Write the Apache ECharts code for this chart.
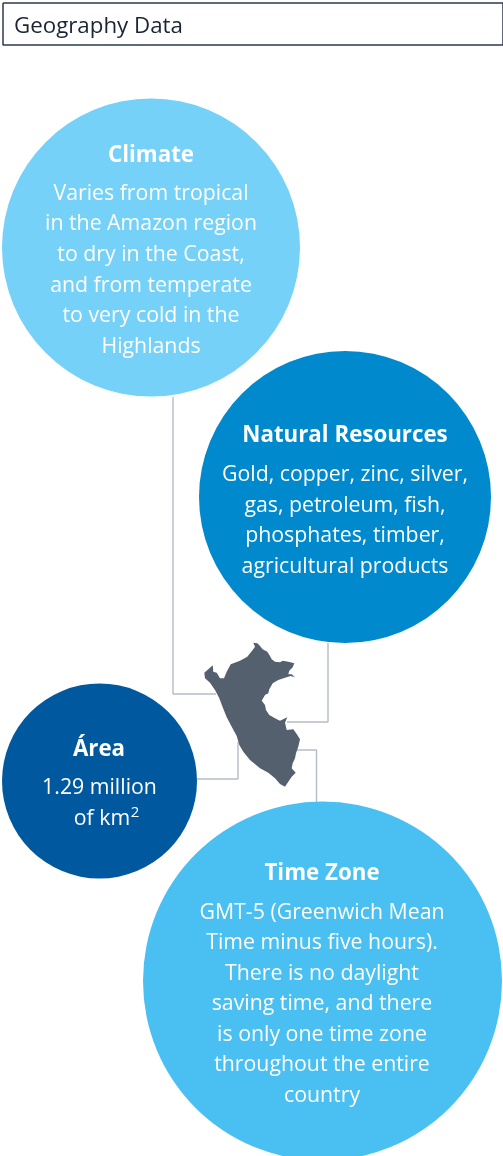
<!DOCTYPE html>
<html>
<head>
<meta charset="utf-8">
<style>
html,body{margin:0;padding:0;background:#fff;}
#main{width:503px;height:1156px;}
</style>
<script src="https://cdn.jsdelivr.net/npm/echarts@6/dist/echarts.min.js"></script>
</head>
<body>
<div id="main"></div>
<script>
// circles: x, y, diameter, colour
var bubbleNames = ['Climate', 'Natural Resources', 'Área', 'Time Zone'];
var bubbleX = [151, 345, 99.5, 322.5];
var bubbleY = [247.5, 497, 781, 981];
var bubbleSize = [298, 292, 195, 359];
var bubbleColor = ['#75D1F8', '#0089CD', '#00599F', '#4ABFF2'];

// text lines: text, x, y
var titleLines = [
	['Climate', 151, 155.5],
	['Natural Resources', 345, 435.5],
	['Área', 99, 749.5],
	['Time Zone', 322, 873.5]
];
var bodyLines = [
	['Varies from tropical', 151, 193.5],
	['in the Amazon region', 151, 223.5],
	['to dry in the Coast,', 151, 254.5],
	['and from temperate', 151, 285.5],
	['to very cold in the', 151, 315.5],
	['Highlands', 151, 346.5],
	['Gold, copper, zinc, silver,', 345, 474.5],
	['gas, petroleum, fish,', 345, 505.5],
	['phosphates, timber,', 345, 535.5],
	['agricultural products', 345, 566.5],
	['1.29 million', 99.5, 787.5],
	['of km', 102, 818.5],
	['GMT-5 (Greenwich Mean', 322, 912.5],
	['Time minus five hours).', 322, 942.5],
	['There is no daylight', 322, 973.5],
	['saving time, and there', 322, 1003.5],
	['is only one time zone', 322, 1034.5],
	['throughout the entire', 322, 1064.5],
	['country', 322, 1095.5]
];
var superLines = [['2', 135, 813]];

// connector lines
var connectors = [
	[[173, 397], [173, 694], [216, 694]],
	[[328, 643], [328, 722], [287, 722]],
	[[197, 779], [238, 779], [238, 742]],
	[[297, 750], [316.5, 750], [316.5, 802]]
];
var headerBox = [[3, 3], [503, 3], [503, 45], [3, 45], [3, 3]];
var headerText = [['Geography Data', 14, 27]];

// Peru outline
var peruOutline = [
	[253.3,642.7],[257.3,643.3],[260,646],[262.7,649.3],[267.3,651.7],[270,656],[271.7,659.3],[275,661.7],
	[280,662.3],[282.7,660.7],[288.3,661.7],[294.3,663.3],[292.7,667.3],[289.3,670.7],[288.3,674.3],[291.7,674.3],
	[295,677.3],[290.7,676],[285,677.7],[278.3,680],[272.7,683.3],[269.3,689.3],[268.3,693.3],[265,695],
	[261.7,700.7],[265,705],[266,710],[269.3,715],[275,718.3],[280,720.7],[287.3,717.3],[285,722.7],
	[286.7,730],[293.3,729.3],[296.7,734],[300,739.3],[298.3,746.7],[296,753.3],[295,758.3],[292.7,763.3],
	[291.7,768.3],[295.7,772.7],[291.7,776.7],[288.3,781.7],[285,786.7],[280,784],[275,778.3],[268.3,772.7],
	[260,768.3],[250,760],[243.3,751.7],[239.3,745],[236.7,736],[231.7,726.7],[226.7,717.3],[222.7,707.3],
	[219.3,698.3],[215,690],[210,682.7],[205,678.3],[204.3,672.7],[208.3,669.3],[212.7,665.3],[213.3,671.7],
	[216.7,672.7],[220,678.3],[224,678.3],[226.7,671.7],[230.7,664.3],[240,660.7],[247.3,656.7],[252.7,650],[255,646.7]
];

function textSeries(name, rows, fontSize, fontWeight, color, align) {
	return {
		name: name,
		type: 'scatter',
		symbolSize: 0,
		silent: true,
		z: 10,
		itemStyle: { opacity: 1 },
		data: rows.map(function (r) {
			return { name: r[0], value: [r[1], r[2]] };
		}),
		label: {
			show: true,
			position: 'inside',
			formatter: '{b}',
			fontFamily: 'Open Sans',
			fontSize: fontSize,
			fontWeight: fontWeight,
			color: color,
			align: align,
			verticalAlign: 'middle'
		}
	};
}

var series = [];

connectors.forEach(function (c) {
	series.push({
		type: 'line',
		data: c,
		symbol: 'none',
		silent: true,
		z: 1,
		lineStyle: { color: '#B5BDC4', width: 1.4 }
	});
});

series.push({
	type: 'line',
	data: headerBox,
	symbol: 'none',
	silent: true,
	z: 1,
	lineStyle: { color: '#2E3A4D', width: 1.5 }
});

series.push({
	type: 'custom',
	silent: true,
	z: 2,
	data: peruOutline,
	renderItem: function (params, api) {
		if (params.dataIndex !== 0) return;
		return {
			type: 'polygon',
			shape: { points: peruOutline.map(function (p) { return api.coord(p); }) },
			style: { fill: '#54606E' }
		};
	}
});

series.push({
	type: 'scatter',
	silent: true,
	z: 3,
	data: bubbleNames.map(function (n, i) {
		return {
			name: n,
			value: [bubbleX[i], bubbleY[i]],
			symbolSize: bubbleSize[i],
			itemStyle: { color: bubbleColor[i], opacity: 1 }
		};
	})
});

series.push(textSeries('titles', titleLines, 22.3, 700, '#fff', 'center'));
series.push(textSeries('body', bodyLines, 21.3, 400, '#fff', 'center'));
series.push(textSeries('super', superLines, 15, 400, '#fff', 'center'));
series.push(textSeries('header', headerText, 22.3, 400, '#1A2433', 'left'));

var chartDom = document.getElementById('main');
var myChart = echarts.init(chartDom);
var option = {
	animation: false,
	grid: { left: 0, right: 0, top: 0, bottom: 0 },
	tooltip: { show: false },
	xAxis: { type: 'value', min: 0, max: 503, show: false },
	yAxis: { type: 'value', min: 0, max: 1156, inverse: true, show: false },
	series: series
};
option && myChart.setOption(option);
</script>
</body>
</html>
